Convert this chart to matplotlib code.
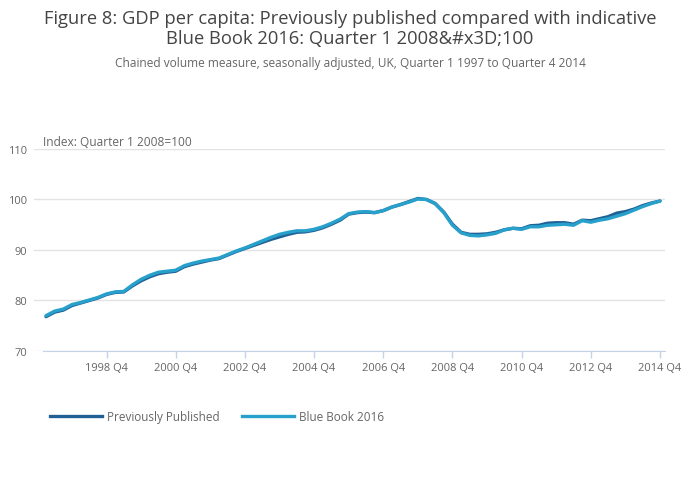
import matplotlib.pyplot as plt
from matplotlib.lines import Line2D

plt.rcParams['font.family'] = ['Open Sans', 'DejaVu Sans']

# quarters 1997 Q1 .. 2014 Q4
quarters = [f"{y} Q{q}" for y in range(1997, 2015) for q in range(1, 5)]

previously_published = [
    76.8, 77.7, 78.1, 79.0, 79.5, 80.0, 80.5, 81.2,
    81.6, 81.7, 82.9, 83.9, 84.7, 85.3, 85.6, 85.8,
    86.7, 87.2, 87.6, 88.0, 88.3, 89.0, 89.7, 90.3,
    90.9, 91.5, 92.1, 92.6, 93.1, 93.5, 93.6, 93.9,
    94.4, 95.1, 95.9, 97.1, 97.4, 97.5, 97.4, 97.8,
    98.5, 99.0, 99.6, 100.2, 100.0, 99.2, 97.5, 95.1,
    93.5, 93.1, 93.1, 93.2, 93.5, 94.0, 94.3, 94.2,
    94.8, 94.9, 95.3, 95.4, 95.4, 95.1, 95.9, 95.8,
    96.2, 96.6, 97.3, 97.6, 98.1, 98.8, 99.3, 99.7,
]

blue_book_2016 = [
    77.0, 77.9, 78.3, 79.2, 79.6, 80.1, 80.6, 81.3,
    81.7, 81.8, 83.1, 84.2, 85.0, 85.6, 85.8, 86.0,
    86.9, 87.4, 87.8, 88.1, 88.4, 89.1, 89.8, 90.4,
    91.1, 91.8, 92.5, 93.1, 93.5, 93.8, 93.8, 94.1,
    94.6, 95.3, 96.1, 97.2, 97.5, 97.6, 97.4, 97.8,
    98.5, 99.0, 99.5, 100.1, 100.0, 99.2, 97.4, 94.9,
    93.4, 92.9, 92.8, 93.0, 93.3, 94.0, 94.3, 94.1,
    94.6, 94.6, 94.9, 95.0, 95.1, 94.9, 95.8, 95.5,
    95.9, 96.2, 96.7, 97.2, 97.9, 98.6, 99.2, 99.7,
]

tick_labels = ["1998 Q4", "2000 Q4", "2002 Q4", "2004 Q4", "2006 Q4",
               "2008 Q4", "2010 Q4", "2012 Q4", "2014 Q4"]
yticks = [70, 80, 90, 100, 110]

dark = "#206095"
light = "#27a0cc"
grey = "#666666"

fig = plt.figure(figsize=(7, 5.02), dpi=100)
W, H = 700, 502
ax = fig.add_axes([34 / W, (H - 352) / H, (665 - 34) / W, (352 - 150) / H])

x = list(range(len(quarters)))
ax.plot(x, previously_published, color=dark, lw=2.4, solid_capstyle='round', zorder=3)
ax.plot(x, blue_book_2016, color=light, lw=2.4, solid_capstyle='round', zorder=4)

ax.set_xlim(-1.39, 71.58)
ax.set_ylim(70, 110)

tick_pos = [quarters.index(t) for t in tick_labels]
ax.set_xticks(tick_pos)
ax.set_xticklabels(tick_labels, fontsize=8, color=grey)
ax.set_yticks(yticks)
ax.set_yticklabels([str(v) for v in yticks], fontsize=8, color=grey)
ax.tick_params(axis='x', length=5, width=1, color="#c5d3e6", pad=3)
ax.tick_params(axis='y', length=0, pad=5)

ax.grid(axis='y', color="#e3e3e3", lw=1)
ax.set_axisbelow(True)
for s in ['top', 'right', 'left']:
    ax.spines[s].set_visible(False)
ax.spines['bottom'].set_color("#c5d3e6")
ax.spines['bottom'].set_bounds(-0.35, 71.58)

ax.text(43 / W, (H - 143) / H, "Index: Quarter 1 2008=100", transform=fig.transFigure,
        fontsize=8.6, color=grey, va='center', ha='left')

fig.text(0.5, (H - 29) / H,
         "Figure 8: GDP per capita: Previously published compared with indicative\nBlue Book 2016: Quarter 1 2008&#x3D;100",
         ha='center', va='center', fontsize=13.2, color="#444444", linespacing=1.15)
fig.text(0.5, (H - 64) / H,
         "Chained volume measure, seasonally adjusted, UK, Quarter 1 1997 to Quarter 4 2014",
         ha='center', va='center', fontsize=8.6, color=grey)

handles = [Line2D([], [], color=dark, lw=2.4), Line2D([], [], color=light, lw=2.4)]
fig.legend(handles, ["Previously Published", "Blue Book 2016"],
           loc='center left', bbox_to_anchor=(39 / W, (H - 418) / H),
           ncol=2, frameon=False, fontsize=8.5, labelcolor=grey,
           handlelength=4.4, handletextpad=0.45, columnspacing=1.9)

fig.savefig("out.png", dpi=100)
